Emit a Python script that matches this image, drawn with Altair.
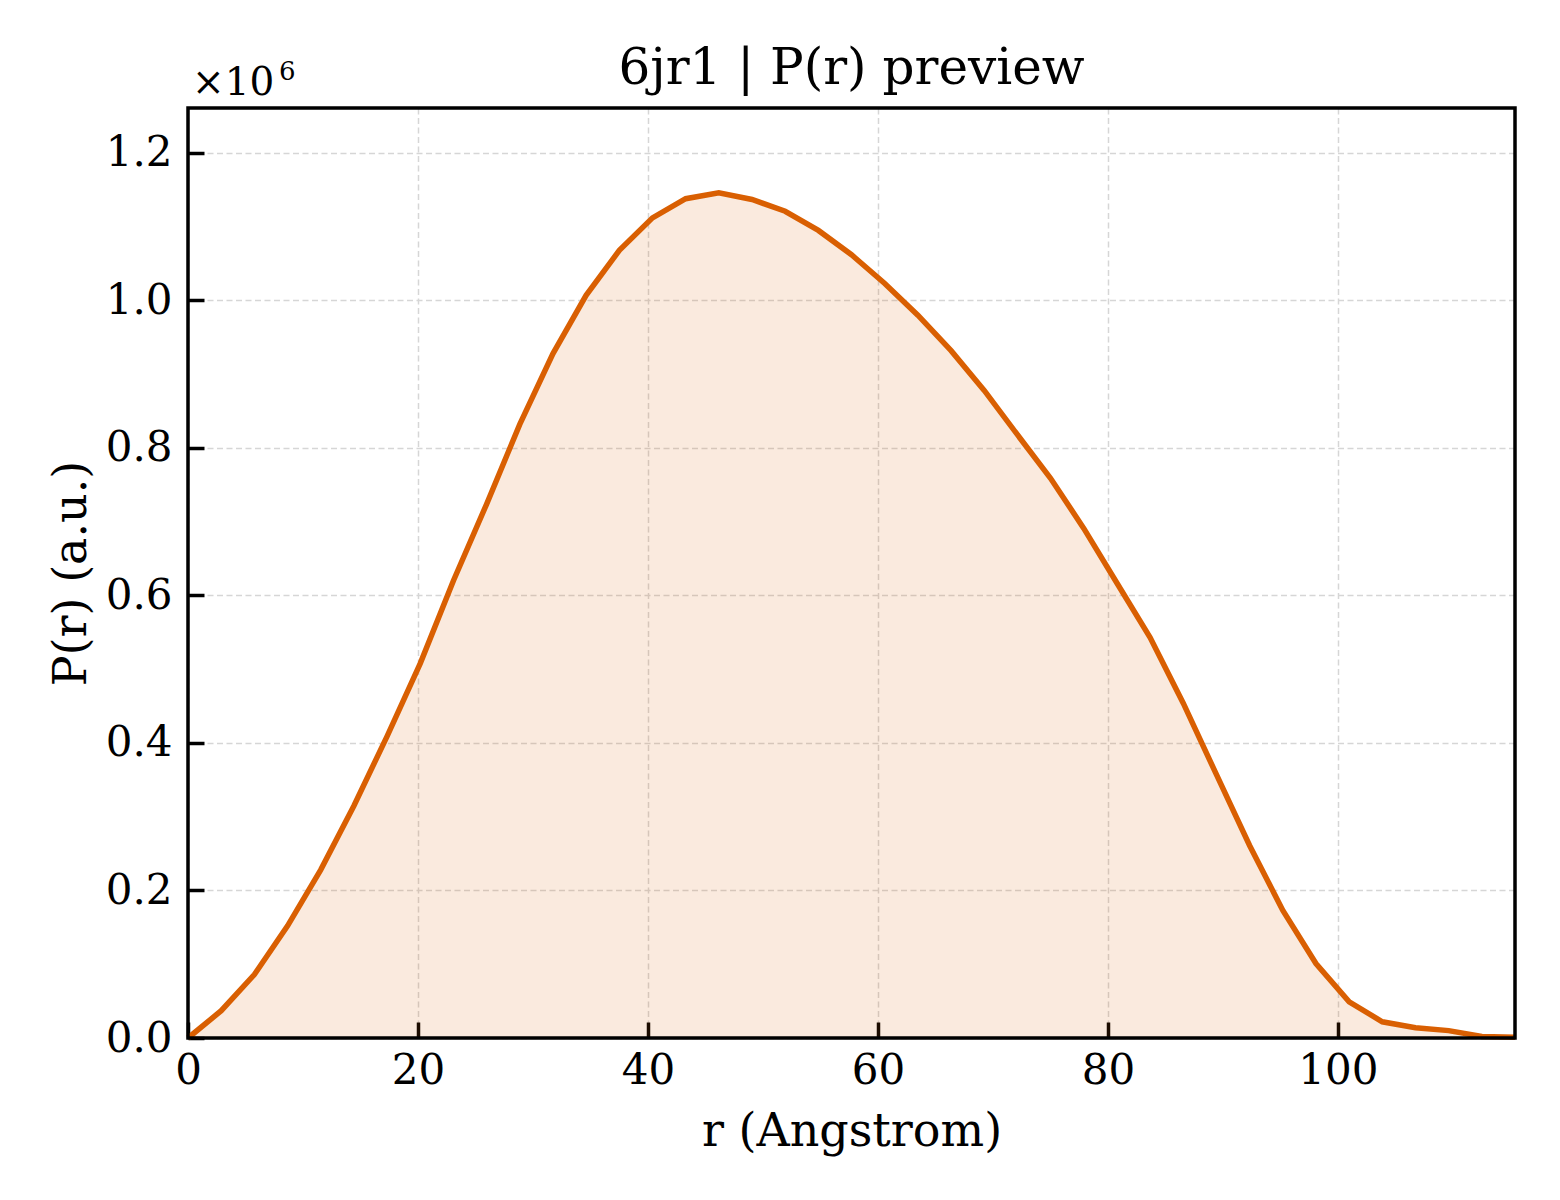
import altair as alt
import pandas as pd

# ---- data ----
r_values = [0.0, 2.89, 5.77, 8.66, 11.54, 14.43, 17.31, 20.2, 23.08, 25.97,
            28.85, 31.74, 34.62, 37.51, 40.39, 43.28, 46.16, 49.05, 51.93, 54.82,
            57.7, 60.59, 63.47, 66.36, 69.24, 72.13, 75.01, 77.9, 80.78, 83.67,
            86.55, 89.44, 92.32, 95.21, 98.09, 100.98, 103.86, 106.75, 109.63, 112.52, 115.4]
# P(r) in units of 1e6
p_values = [0.000, 0.037, 0.086, 0.152, 0.228, 0.315, 0.409, 0.508, 0.620, 0.724,
            0.832, 0.928, 1.007, 1.068, 1.112, 1.138, 1.146, 1.137, 1.121, 1.095,
            1.062, 1.023, 0.980, 0.932, 0.878, 0.818, 0.759, 0.691, 0.617, 0.543,
            0.454, 0.357, 0.261, 0.173, 0.101, 0.049, 0.022, 0.014, 0.010, 0.002, 0.001]
x_ticks = [0, 20, 40, 60, 80, 100]
y_ticks = [0.0, 0.2, 0.4, 0.6, 0.8, 1.0, 1.2]
title_text = "6jr1 | P(r) preview"
x_label = "r (Angstrom)"
y_label = "P(r) (a.u.)"
offset_base = "×10"
offset_exp = "6"

W, H = 1327, 930
FONT = "DejaVu Serif"
COLOR = "#d95f02"
TICK = 16

xs = alt.Scale(domain=[0, 115.4], nice=False, zero=False)
ys = alt.Scale(domain=[0, 1.261], nice=False, zero=False)

# negative offset + positive tickSize => ticks point into the plot
x_axis = alt.Axis(values=x_ticks, title=x_label, format="d", labelFlush=False,
                  labelOverlap=False, labelPadding=12, offset=-TICK, tickSize=TICK,
                  titleBaseline="alphabetic", titleY=107 + TICK, titleX=W / 2,
                  titleFontSize=46, titleFont=FONT, titleFontWeight="normal")
y_axis = alt.Axis(values=y_ticks, title=y_label, format=".1f", labelFlush=False,
                  labelOverlap=False, labelPadding=16, offset=-TICK, tickSize=TICK,
                  titleBaseline="alphabetic", titleAngle=270, titleX=-103 - TICK,
                  titleY=H / 2, titleFontSize=46, titleFont=FONT,
                  titleFontWeight="normal")

df = pd.DataFrame({"r": r_values, "p": p_values})
base = alt.Chart(df)

area = base.mark_area(color=COLOR, opacity=0.13).encode(
    x=alt.X("r:Q", scale=xs, axis=x_axis),
    y=alt.Y("p:Q", scale=ys, axis=y_axis),
)
line = base.mark_line(color=COLOR, strokeWidth=5.5).encode(
    x=alt.X("r:Q", scale=xs, axis=x_axis),
    y=alt.Y("p:Q", scale=ys, axis=y_axis),
)

# frame drawn on top of everything
frame = alt.Chart(pd.DataFrame({"f": [0]})).mark_rect(
    fill=None, stroke="black", strokeWidth=3.5
).encode(x=alt.value(0), x2=alt.value(W), y=alt.value(0), y2=alt.value(H))

title = alt.Chart(pd.DataFrame({"t": [title_text]})).mark_text(
    font=FONT, fontSize=50, baseline="alphabetic", align="center", color="black"
).encode(text="t:N", x=alt.value(W / 2), y=alt.value(-24))

off1 = alt.Chart(pd.DataFrame({"t": [offset_base]})).mark_text(
    font=FONT, fontSize=39, baseline="alphabetic", align="left", color="black"
).encode(text="t:N", x=alt.value(4), y=alt.value(-13))
off2 = alt.Chart(pd.DataFrame({"t": [offset_exp]})).mark_text(
    font=FONT, fontSize=26, baseline="alphabetic", align="left", color="black"
).encode(text="t:N", x=alt.value(91), y=alt.value(-28))

chart = alt.layer(area, line, frame, title, off1, off2).properties(
    width=W, height=H,
    autosize=alt.AutoSizeParams(type="none"),
    padding={"left": 180, "top": 100, "right": 30, "bottom": 150},
    background="white",
).configure_view(
    stroke=None
).configure_axis(
    domain=False, ticks=True, tickColor="black", tickWidth=3.5,
    labelFont=FONT, labelFontSize=42, labelColor="black",
    titleColor="black",
    grid=True, gridColor="#d6d6d6", gridDash=[6, 3.5], gridWidth=1.5,
)

chart.save("out.html", embed_options={"renderer": "svg", "actions": False})
